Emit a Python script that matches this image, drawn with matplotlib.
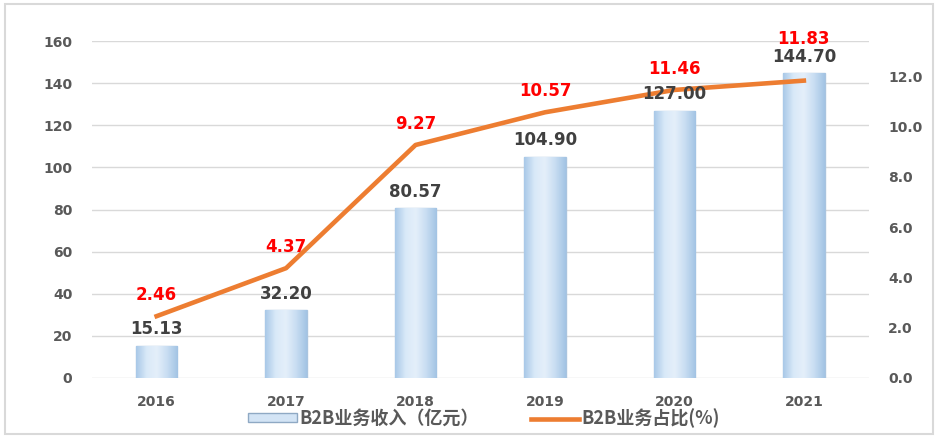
import numpy as np
import matplotlib.pyplot as plt
from matplotlib.patches import Rectangle
from matplotlib.colors import LinearSegmentedColormap

plt.rcParams['font.family'] = ['DejaVu Sans', 'Noto Sans CJK SC']

years = ["2016", "2017", "2018", "2019", "2020", "2021"]
revenue = [15.13, 32.20, 80.57, 104.90, 127.00, 144.70]     # 亿元
share = [2.46, 4.37, 9.27, 10.57, 11.46, 11.83]              # %
share_offsets = [15, 15, 15, 15, 15, 30]                     # label offset (pt)

tick_color = "#595959"
x = list(range(len(years)))

fig = plt.figure(figsize=(9.38, 4.38), dpi=100)
ax = fig.add_axes([0.098, 0.137, 0.828, 0.769])
ax2 = ax.twinx()

# bars with a soft horizontal gradient
bars = ax.bar(x, revenue, width=0.32, color="#c9def2", edgecolor="#a9c4df",
              linewidth=1.0, zorder=3)
grad = LinearSegmentedColormap.from_list(
    "g", ["#a9c9e8", "#d9e9f8", "#e4effa", "#c8ddf2", "#a3c4e4"])
gimg = np.linspace(0, 1, 64).reshape(1, -1)
for b in bars:
    im = ax.imshow(gimg, cmap=grad, aspect="auto", zorder=3.1,
                   extent=[b.get_x(), b.get_x() + b.get_width(), 0, b.get_height()])
    im.set_clip_path(b)
ax.set_xlim(-0.5, len(years) - 0.5)
ax.set_ylim(0, 160)

ax.set_yticks(range(0, 161, 20))
ax.set_xticks(x)
ax.set_xticklabels(years)
ax.grid(axis="y", color="#d9d9d9", lw=1, zorder=0)
ax.set_axisbelow(True)
for s in list(ax.spines.values()) + list(ax2.spines.values()):
    s.set_visible(False)
ax.tick_params(axis="both", length=0, labelsize=10, colors=tick_color, pad=14)
ax.tick_params(axis="x", pad=12)
for lab in ax.get_xticklabels() + ax.get_yticklabels():
    lab.set_fontweight("bold")

# line
ax2.plot(x, share, color="#ed7d31", lw=3.3, zorder=4)
for xi, v, off in zip(x, share, share_offsets):
    ax2.annotate(f"{v:.2f}", (xi, v), xytext=(0, off), textcoords="offset points",
                 ha="center", va="center", fontsize=12, fontweight="bold",
                 color="#ff0000", zorder=6)
# bar value labels sit above the line
for xi, v in zip(x, revenue):
    ax2.annotate(f"{v:.2f}", (xi, v), xycoords=ax.transData, xytext=(0, 12),
                 textcoords="offset points", ha="center", va="center",
                 fontsize=12, fontweight="bold", color="#404040", zorder=5)
ax2.set_ylim(0, 13.4)
ax2.set_yticks(range(0, 13, 2))
ax2.set_yticklabels([f"{t:.1f}" for t in range(0, 13, 2)])
ax2.tick_params(axis="y", length=0, labelsize=10, colors=tick_color, pad=14)
for lab in ax2.get_yticklabels():
    lab.set_fontweight("bold")

# legend
h1 = Rectangle((0, 0), 1, 1, facecolor="#d3e4f5", edgecolor="#8fa9c4")
h2 = plt.Line2D([], [], color="#ed7d31", lw=3.3)
fig.legend([h1, h2], ["B2B业务收入（亿元）", "B2B业务占比(%)"], loc="center",
           bbox_to_anchor=(0.516, 0.045), ncol=2, frameon=False,
           prop={"family": ["Noto Sans CJK SC"], "weight": "bold", "size": 13},
           labelcolor=tick_color, handlelength=2.7, handleheight=0.35,
           handletextpad=0.1, columnspacing=2.9)

# outer frame
fig.patches.append(Rectangle((0.005, 0.008), 0.99, 0.982, transform=fig.transFigure,
                             fill=False, edgecolor="#d9d9d9", lw=1.5))

fig.savefig("out.png", dpi=100)
